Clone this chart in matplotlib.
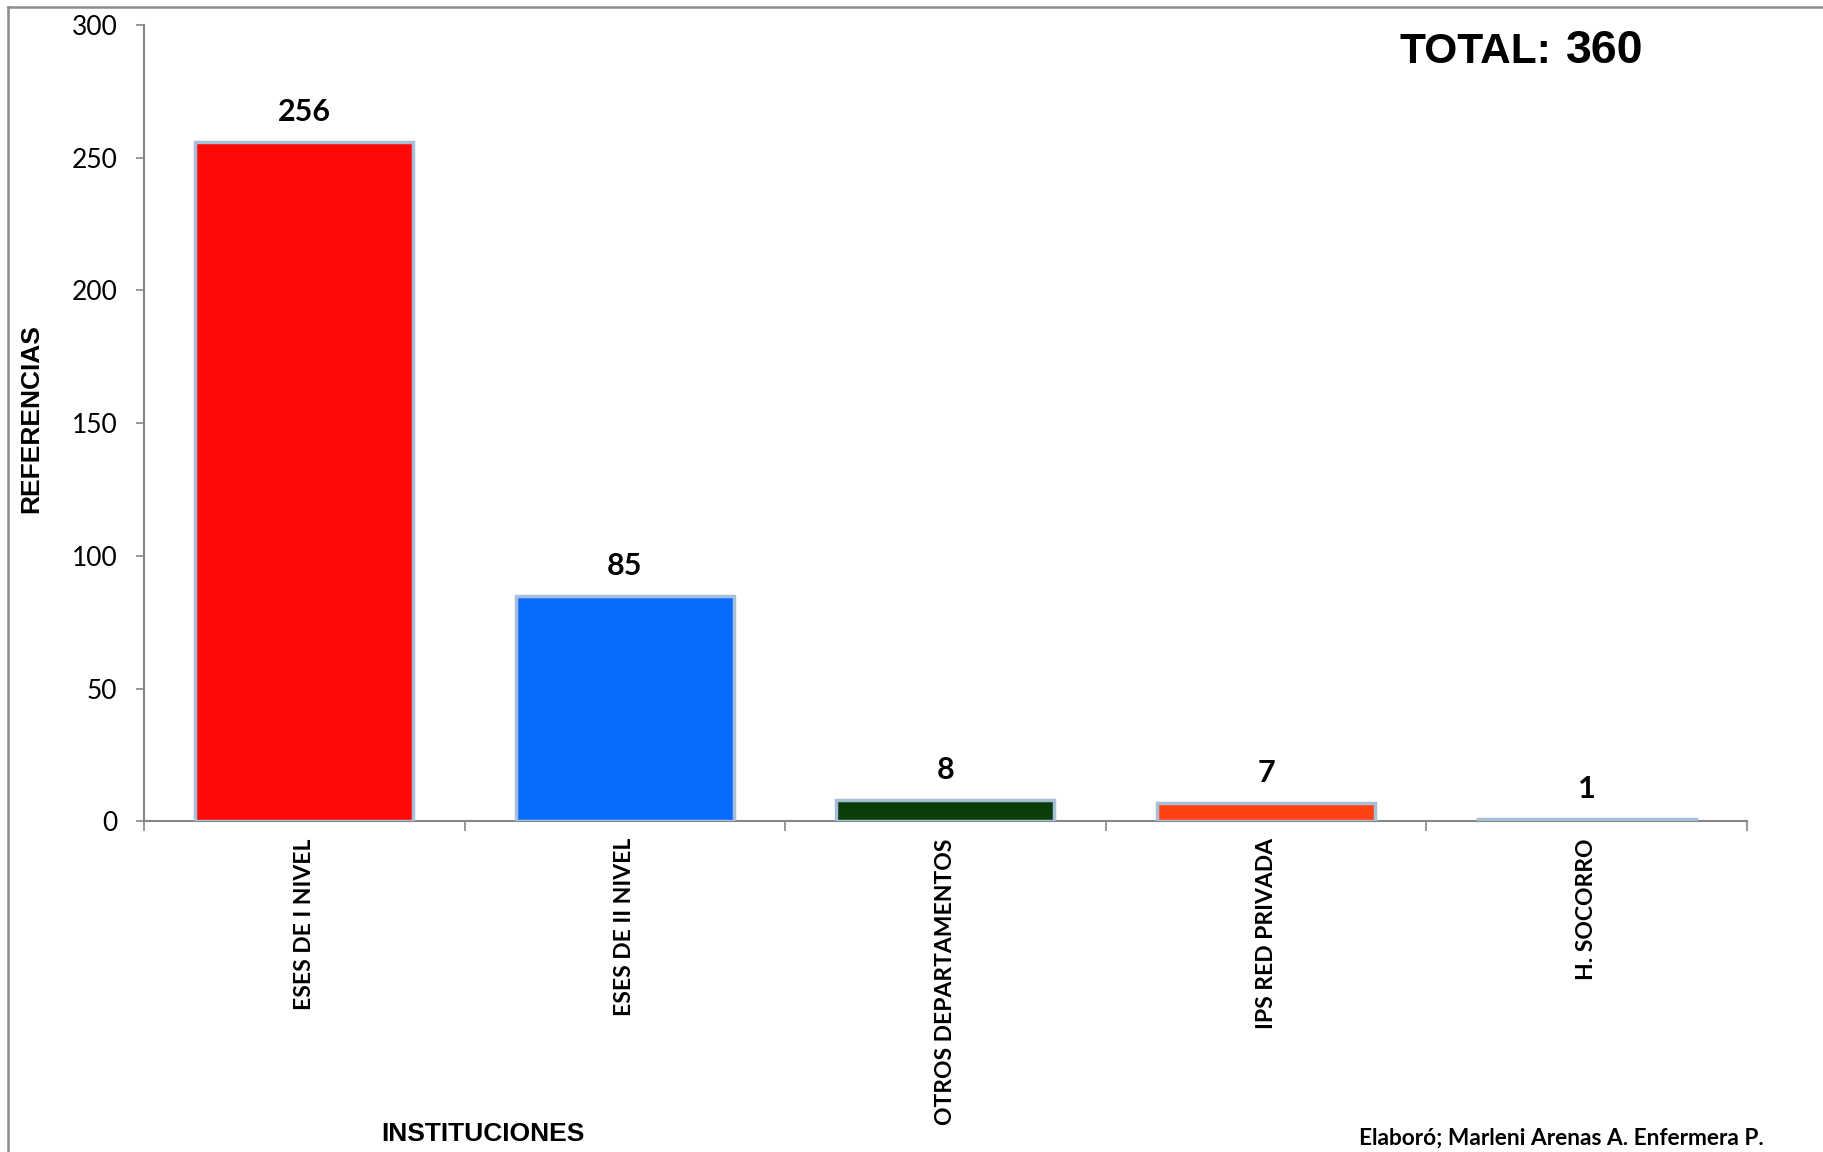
import matplotlib.pyplot as plt
from matplotlib.lines import Line2D

# datos del gráfico
categorias = ['ESES DE I NIVEL', 'ESES DE II NIVEL', 'OTROS DEPARTAMENTOS',
              'IPS RED PRIVADA', 'H. SOCORRO']
referencias = [256, 85, 8, 7, 1]
colores = ['#FF0808', '#0A6CFF', '#0B3D0B', '#FF4212', '#A9C9EA']
total = 360

fuente_num = ['Lato', 'DejaVu Sans']
fuente_tit = ['Liberation Sans', 'DejaVu Sans']

fig = plt.figure(figsize=(18.24, 11.52), dpi=100)
ax = fig.add_axes([0.0789, 0.2869, 0.8789, 0.6914])

x = range(len(categorias))
barras = ax.bar(x, referencias, width=0.68, color=colores,
                edgecolor='#A8BFDA', linewidth=2.5, zorder=3)

# etiquetas de valor
for b, v in zip(barras, referencias):
    ax.annotate(str(v), (b.get_x() + b.get_width() / 2, b.get_height()),
                xytext=(0, 11.5), textcoords='offset points',
                ha='center', va='bottom', fontsize=22, fontweight='bold',
                family=fuente_num)

ax.set_xlim(-0.5, len(categorias) - 0.5)
ax.set_ylim(0, 300)
ax.set_yticks(range(0, 301, 50))

ax.set_xticks(list(x))
ax.set_xticklabels(categorias, rotation=90, fontsize=16.5, fontweight='bold',
                   family=fuente_num, va='top')
ax.tick_params(axis='x', length=0, pad=12)
ax.set_xticks([i - 0.5 for i in range(len(categorias) + 1)], minor=True)
ax.tick_params(axis='x', which='minor', length=7, width=1.2, color='#868686')
ax.tick_params(axis='y', length=6, width=1.2, color='#868686', pad=13)
ax.set_yticklabels([str(v) for v in range(0, 301, 50)], fontsize=19,
                   family=fuente_num)

for s in ['top', 'right']:
    ax.spines[s].set_visible(False)
for s in ['left', 'bottom']:
    ax.spines[s].set_color('#868686')
    ax.spines[s].set_linewidth(1.5)

# títulos de ejes y textos
fig.text(0.017, 0.637, 'REFERENCIAS', rotation=90, ha='center', va='center',
         fontsize=19, fontweight='bold', family=fuente_tit)
fig.text(0.265, 0.0155, 'INSTITUCIONES', ha='center', va='center',
         fontsize=19, fontweight='bold', family=fuente_tit)
fig.text(0.856, 0.012, 'Elaboró; Marleni Arenas A. Enfermera P.', ha='center',
         va='center', fontsize=16.3, fontweight='bold', family=fuente_num)
fig.text(1399 / 1824, 1 - 63 / 1152, 'TOTAL:', ha='left', va='baseline',
         fontsize=30.5, fontweight='bold', family=fuente_tit)
fig.text(1566 / 1824, 1 - 63 / 1152, str(total), ha='left', va='baseline',
         fontsize=33.5, fontweight='bold', family=fuente_tit)

# marco
fig.add_artist(Line2D([8 / 1824, 8 / 1824], [0, 1 - 7 / 1152],
                      color='#8C8C8C', linewidth=1.8))
fig.add_artist(Line2D([8 / 1824, 1], [1 - 7 / 1152, 1 - 7 / 1152],
                      color='#8C8C8C', linewidth=1.8))

fig.savefig('out.png', dpi=100)
